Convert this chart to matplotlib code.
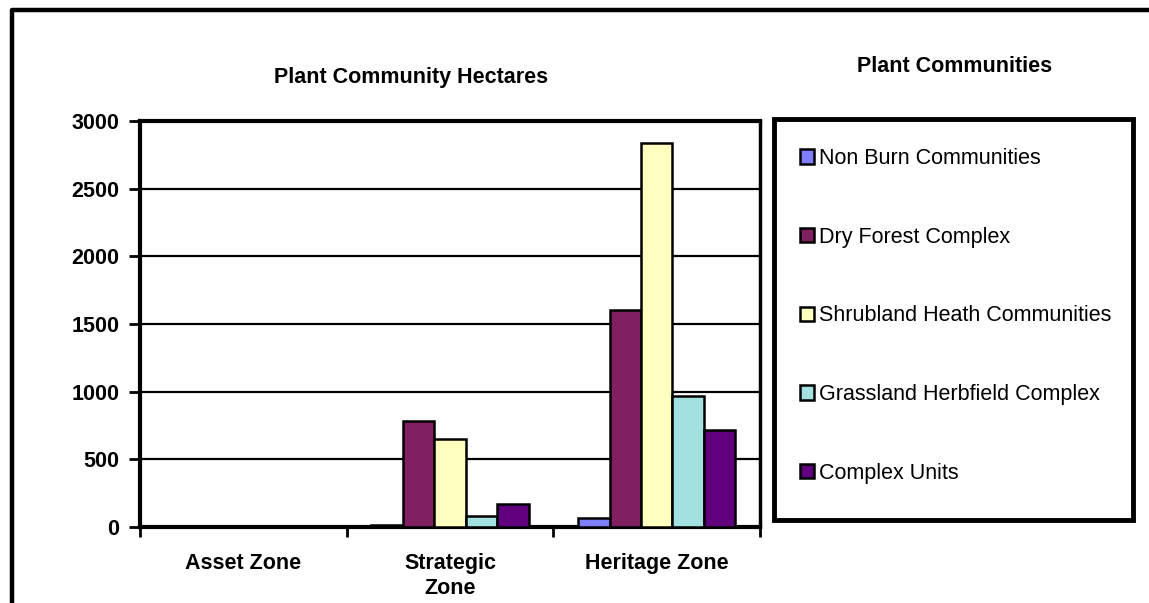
import matplotlib
matplotlib.use("Agg")
import matplotlib.pyplot as plt
from matplotlib.lines import Line2D
from matplotlib.patches import Rectangle
import numpy as np

plt.rcParams['font.family'] = ['Liberation Sans', 'DejaVu Sans']

zones = ["Asset Zone", "Strategic\nZone", "Heritage Zone"]
series_names = ["Non Burn Communities", "Dry Forest Complex",
                "Shrubland Heath Communities", "Grassland Herbfield Complex",
                "Complex Units"]
non_burn = [0, 15, 70]
dry_forest = [1, 785, 1605]
shrubland = [4, 650, 2835]
grassland = [3, 80, 970]
complex_units = [4, 170, 715]
values = [non_burn, dry_forest, shrubland, grassland, complex_units]
colors = ["#8080FF", "#802060", "#FFFFC0", "#A3E0E0", "#600080"]
yticks = [0, 500, 1000, 1500, 2000, 2500, 3000]

W, H = 1149, 603
fig = plt.figure(figsize=(W / 100, H / 100), dpi=100)

def fx(px):
    return px / W

def fy(py):
    return 1 - py / H

ax = fig.add_axes([fx(140), fy(527), fx(760) - fx(140), fy(121) - fy(527)])

x = np.arange(len(zones))
bw = 0.152
handles = []
for i, (vals, c) in enumerate(zip(values, colors)):
    b = ax.bar(x + (i - 2) * bw, vals, width=bw, color=c, edgecolor="black",
               linewidth=1.8, zorder=3, label=series_names[i])
    handles.append(b)

ax.set_xlim(-0.5, 2.5)
ax.set_ylim(0, 3000)
ax.set_yticks(yticks)
ax.set_yticklabels([str(v) for v in yticks])
ax.yaxis.grid(True, color="black", linewidth=1.6, zorder=1)
ax.set_axisbelow(True)

ax.set_xticks([-0.5, 0.5, 1.5, 2.5])
ax.set_xticklabels([])
ax.set_xticks(x, minor=True)
ax.set_xticklabels(zones, minor=True, fontsize=15.5, fontweight="bold",
                   linespacing=1.25, va="top")
ax.tick_params(axis="x", which="major", direction="out", length=7, width=2)
ax.tick_params(axis="x", which="minor", length=0, pad=19)
ax.tick_params(axis="y", direction="out", length=8, width=2, pad=7,
               labelsize=15.5)
for lab in ax.get_yticklabels():
    lab.set_fontweight("bold")

for s in ["left", "bottom", "top"]:
    ax.spines[s].set_linewidth(3)
ax.spines["right"].set_linewidth(2.5)

fig.text(fx(411), fy(78), "Plant Community Hectares", ha="center",
         va="center", fontsize=15.5, fontweight="bold")
fig.text(fx(955), fy(67), "Plant Communities", ha="center",
         va="center", fontsize=15.5, fontweight="bold")

# Legend frame
fig.add_artist(Rectangle((fx(774), fy(520)), fx(1133) - fx(774),
                         fy(119) - fy(520), transform=fig.transFigure,
                         facecolor="white", edgecolor="black", linewidth=3.5,
                         zorder=0))
leg = fig.legend(handles=handles, labels=series_names, loc="upper left",
                 bbox_to_anchor=(fx(800), fy(148)), frameon=False,
                 fontsize=15.5, handlelength=0.65, handleheight=0.65,
                 handletextpad=0.25, labelspacing=2.68, borderpad=0,
                 borderaxespad=0)

# Outer frame (cut off on right and bottom)
fig.add_artist(Line2D([fx(12), fx(12), 1.05], [-0.05, fy(10), fy(10)],
                      transform=fig.transFigure, color="black", linewidth=3.2))

fig.savefig("out.png", dpi=100)
